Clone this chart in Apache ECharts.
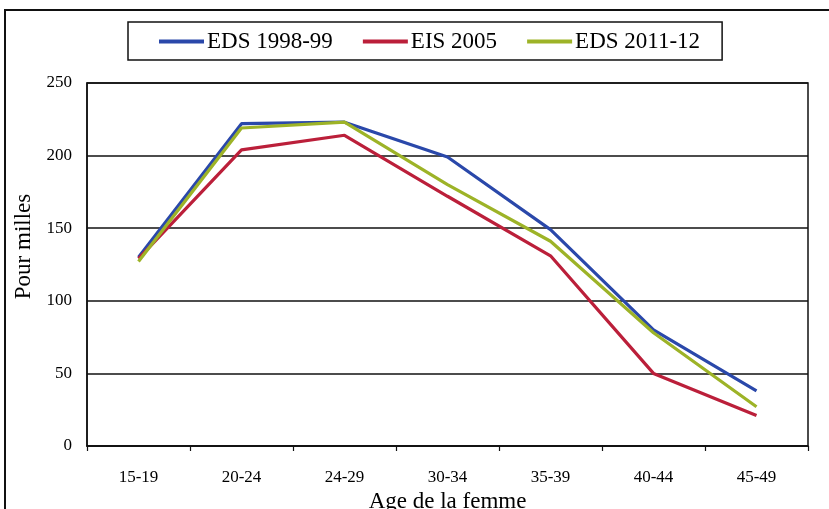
<!DOCTYPE html>
<html>
<head>
<meta charset="utf-8">
<script src="https://cdn.jsdelivr.net/npm/echarts@6/dist/echarts.min.js"></script>
<style>
  html, body { margin: 0; padding: 0; background: #fff; }
  #chart { width: 829px; height: 509px; }
</style>
</head>
<body>
<div id="chart"></div>
<script>
// Age groups of the mother
const categories = ['15-19', '20-24', '24-29', '30-34', '35-39', '40-44', '45-49'];

// Age-specific fertility rates, per thousand women
const eds1998 = [130, 222, 223, 199, 149, 80, 38];
const eis2005 = [129, 204, 214, 172, 131, 50, 21];
const eds2011 = [127, 219, 223, 180, 141, 78, 27];

const seriesNames = ['EDS 1998-99', 'EIS 2005', 'EDS 2011-12'];
const yTicks = { min: 0, max: 250, interval: 50 };

const serif = '"Liberation Serif", "DejaVu Serif", serif';

const chart = echarts.init(document.getElementById('chart'));

function lineSeries(name, data, color) {
  return {
    name: name,
    type: 'line',
    data: data,
    symbol: 'none',
    lineStyle: { color: color, width: 3.2 },
    itemStyle: { color: color },
    z: 3
  };
}

chart.setOption({
  animation: false,
  backgroundColor: '#ffffff',
  textStyle: { fontFamily: serif, color: '#000' },
  graphic: [
    {
      // outer frame around the figure
      type: 'polyline',
      shape: { points: [[5, 509], [5, 10], [829, 10]] },
      style: { stroke: '#111', lineWidth: 2, fill: null },
      silent: true
    }
  ],
  legend: {
    data: seriesNames,
    left: 128,
    top: 22,
    padding: [8, 22, 7, 31],
    borderColor: '#111',
    borderWidth: 1.5,
    itemWidth: 45,
    itemHeight: 4,
    itemGap: 30,
    icon: 'rect',
    textStyle: { fontFamily: serif, fontSize: 23, color: '#000', padding: [0, 0, 0, -2] }
  },
  grid: {
    left: 87,
    right: 21,
    top: 83,
    bottom: 63,
    show: true,
    borderColor: '#111',
    borderWidth: 1.5,
    containLabel: false,
    outerBoundsMode: 'none'
  },
  xAxis: {
    type: 'category',
    data: categories,
    boundaryGap: true,
    name: 'Age de la femme',
    nameLocation: 'middle',
    nameGap: 42,
    nameTextStyle: { fontFamily: serif, fontSize: 23, color: '#000' },
    axisLine: { show: true, lineStyle: { color: '#111', width: 1.5 } },
    axisTick: { show: true, inside: false, length: 5, lineStyle: { color: '#111', width: 1.2 } },
    axisLabel: { fontFamily: serif, fontSize: 17, color: '#000', margin: 23 },
    splitLine: { show: false }
  },
  yAxis: {
    type: 'value',
    min: yTicks.min,
    max: yTicks.max,
    interval: yTicks.interval,
    name: 'Pour milles',
    nameLocation: 'middle',
    nameRotate: 90,
    nameGap: 52,
    // title sits a little above the middle of the axis
    nameTextStyle: { fontFamily: serif, fontSize: 23, color: '#000', padding: [0, 0, 0, 36] },
    axisLine: { show: true, lineStyle: { color: '#111', width: 1.5 } },
    axisTick: { show: false },
    axisLabel: { fontFamily: serif, fontSize: 17, color: '#000', margin: 15 },
    splitLine: { show: true, lineStyle: { color: '#111', width: 1.5 } }
  },
  series: [
    lineSeries(seriesNames[0], eds1998, '#2a48aa'),
    lineSeries(seriesNames[1], eis2005, '#bb1f3a'),
    lineSeries(seriesNames[2], eds2011, '#9db327')
  ]
});
</script>
</body>
</html>
